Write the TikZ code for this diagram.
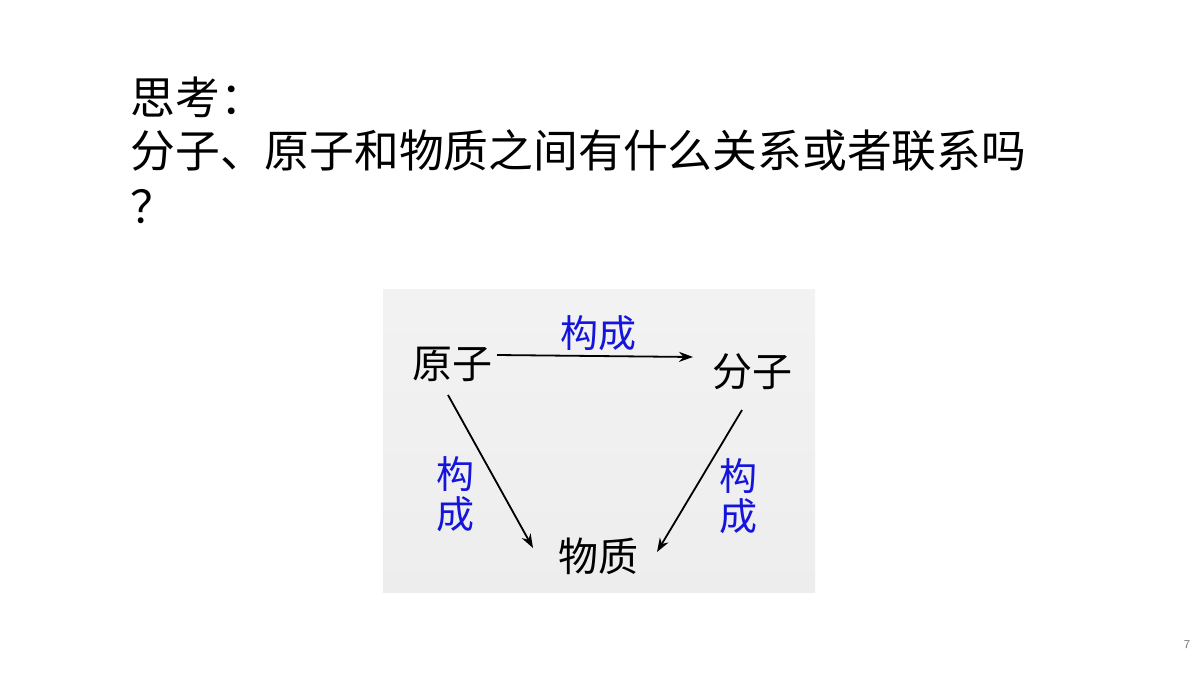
\documentclass[tikz,border=0pt]{standalone}
\usepackage{fontspec}
\newfontfamily\cjk{Noto Sans CJK SC}
\usetikzlibrary{arrows.meta}
\definecolor{lblue}{RGB}{20,20,220}
\tikzset{
  title/.style={anchor=west,font=\cjk\fontsize{22.4}{26}\selectfont,inner sep=0},
  term/.style={font=\cjk\fontsize{20}{22}\selectfont,inner sep=0},
  lbl/.style={font=\cjk\fontsize{19}{21}\selectfont,text=lblue,inner sep=0},
  arr/.style={-{Stealth[length=7pt,width=5pt]},line width=0.9pt}
}
\begin{document}
\begin{tikzpicture}[x=0.5pt,y=-0.5pt]
\fill[white] (0,0) rectangle (1200,675);
\useasboundingbox (0,0) rectangle (1200,675);
\node[title] (t1) at (130,97) {思考：};
\node[title] (t2) at (130,151) {分子、原子和物质之间有什么关系或者联系吗};
\node[title] (t3) at (130,207) {？};
\shade[top color=white!95!black,bottom color=white!93!black] (383,289) rectangle (815,592);
\node[term] (a) at (452,364) {原子};
\node[term] (m) at (752,372) {分子};
\node[term] (s) at (598,556) {物质};
\node[lbl] (l1) at (598,333) {构成};
\node[lbl,align=center] (l2) at (455,494) {构\\[-1pt]成};
\node[lbl,align=center] (l3) at (738,496) {构\\[-1pt]成};
\coordinate (a1) at (497,355); \coordinate (m1) at (693,357);
\coordinate (a2) at (448,395); \coordinate (s1) at (533,548);
\coordinate (m2) at (742,410); \coordinate (s2) at (657,552);
\draw[arr] (a1) -- (m1);
\draw[arr] (a2) -- (s1);
\draw[arr] (m2) -- (s2);
\node[font=\sffamily\fontsize{6}{7}\selectfont,text=gray] (p) at (1187,645) {7};
\end{tikzpicture}
\end{document}
